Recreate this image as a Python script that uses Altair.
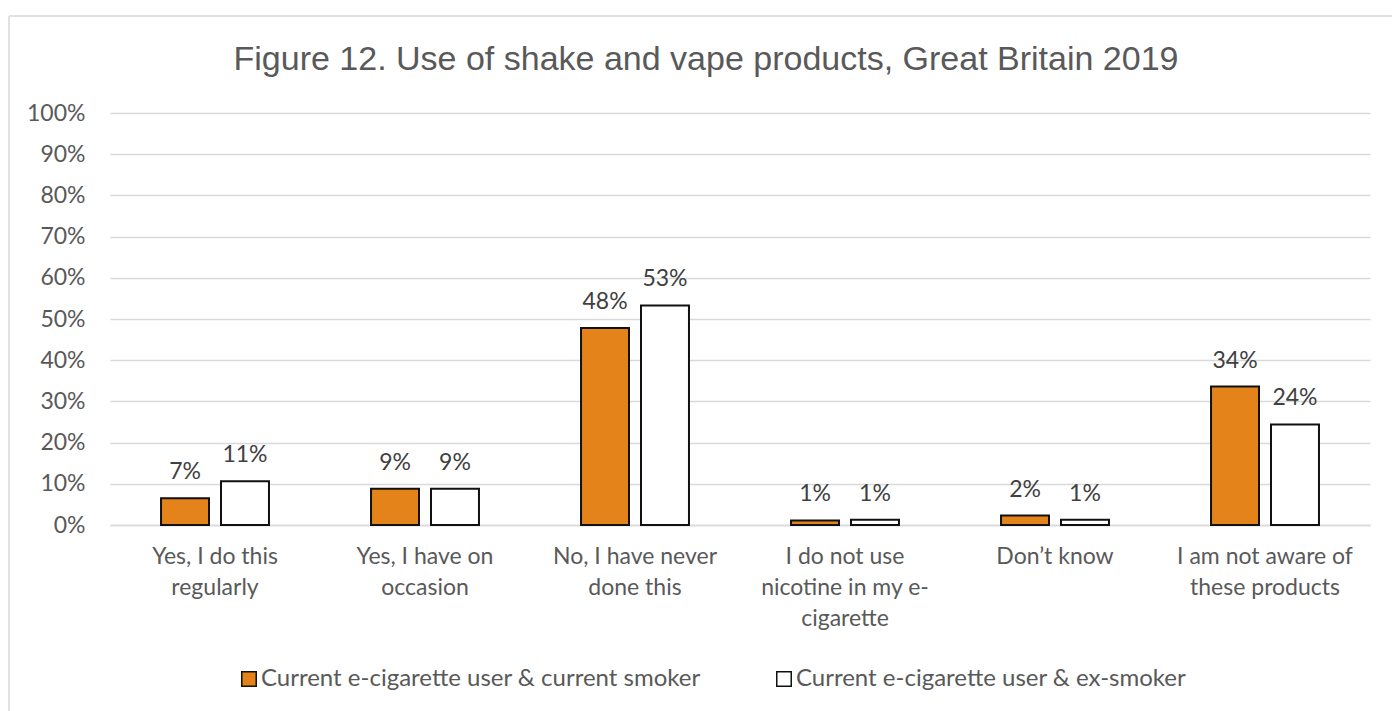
import json
import altair as alt
import pandas as pd

categories = [
    "Yes, I do this regularly",
    "Yes, I have on occasion",
    "No, I have never done this",
    "I do not use nicotine in my e-cigarette",
    "Don\u2019t know",
    "I am not aware of these products",
]
category_lines = [
    ["Yes, I do this", "regularly"],
    ["Yes, I have on", "occasion"],
    ["No, I have never", "done this"],
    ["I do not use", "nicotine in my e-", "cigarette"],
    ["Don\u2019t know"],
    ["I am not aware of", "these products"],
]
series = [
    "Current e-cigarette user & current smoker",
    "Current e-cigarette user & ex-smoker",
]
smoker_values = [6.5, 8.8, 47.8, 1.1, 2.3, 33.6]
exsmoker_values = [10.6, 8.8, 53.3, 1.3, 1.3, 24.4]
smoker_labels = ["7%", "9%", "48%", "1%", "2%", "34%"]
exsmoker_labels = ["11%", "9%", "53%", "1%", "1%", "24%"]
y_ticks = [0, 10, 20, 30, 40, 50, 60, 70, 80, 90, 100]

rows = []
for i, c in enumerate(categories):
    rows.append({"category": c, "series": series[0], "value": smoker_values[i], "label": smoker_labels[i]})
    rows.append({"category": c, "series": series[1], "value": exsmoker_values[i], "label": exsmoker_labels[i]})
df = pd.DataFrame(rows)

GRID = "#D9D9D9"
TEXT = "#595959"
ORANGE = "#E4831A"

label_expr = "{}[indexof({}, datum.value)]".format(
    json.dumps(category_lines, ensure_ascii=False),
    json.dumps(categories, ensure_ascii=False),
)

x_enc = alt.X(
    "category:N",
    sort=categories,
    scale=alt.Scale(paddingInner=0.486, paddingOuter=0.243),
    axis=alt.Axis(
        title=None,
        labelAngle=0,
        labelExpr=label_expr,
        labelFont="Lato",
        labelFontSize=23,
        labelColor=TEXT,
        labelLineHeight=31,
        labelBaseline="top",
        labelPadding=20,
        ticks=False,
        domainColor=GRID,
        domainWidth=1.5,
        labelLimit=400,
    ),
)
xoff_enc = alt.XOffset("series:N", sort=series, scale=alt.Scale(paddingInner=0.2, paddingOuter=0))
y_enc = alt.Y(
    "value:Q",
    scale=alt.Scale(domain=[0, 100], nice=False),
    axis=alt.Axis(
        title=None,
        values=y_ticks,
        labelExpr="datum.value + '%'",
        labelFont="Lato",
        labelFontSize=23,
        labelColor=TEXT,
        labelPadding=25,
        ticks=False,
        domain=False,
        gridColor=GRID,
        gridWidth=1.5,
    ),
)

bars = alt.Chart(df).mark_bar(stroke="#111111", strokeWidth=2).encode(
    x=x_enc,
    xOffset=xoff_enc,
    y=y_enc,
    color=alt.Color(
        "series:N",
        sort=series,
        scale=alt.Scale(domain=series, range=[ORANGE, "#FFFFFF"]),
        legend=alt.Legend(
            title=None,
            orient="none",
            legendX=127,
            legendY=554,
            direction="horizontal",
            symbolType="square",
            symbolSize=210,
            symbolStrokeColor="#111111",
            symbolStrokeWidth=1.5,
            labelFont="Lato",
            labelFontSize=24,
            labelColor=TEXT,
            labelOffset=0,
            columnPadding=71,
            labelLimit=600,
            padding=0,
        ),
    ),
)

labels = alt.Chart(df).mark_text(
    font="Lato", fontSize=23, color="#404040", baseline="alphabetic", dy=-19
).encode(
    x=alt.X("category:N", sort=categories),
    xOffset=alt.XOffset("series:N", sort=series),
    y=alt.Y("value:Q"),
    text="label:N",
)

frame_data = alt.Data(values=[{"k": 1}])
left_border = alt.Chart(frame_data).mark_rule(color=GRID, strokeWidth=1.5).encode(
    x=alt.value(-101), y=alt.value(-97), y2=alt.value(600)
)
top_border = alt.Chart(frame_data).mark_rule(color=GRID, strokeWidth=1.5).encode(
    x=alt.value(-101), x2=alt.value(1290), y=alt.value(-97)
)

chart = (
    alt.layer(left_border, top_border, bars, labels)
    .properties(
        width=1260,
        height=412,
        autosize=alt.AutoSizeParams(type="none"),
        padding={"left": 110, "top": 113, "right": 22, "bottom": 186},
        background="white",
        title=alt.TitleParams(
            text="Figure 12. Use of shake and vape products, Great Britain 2019",
            font="Liberation Sans",
            fontSize=34,
            fontWeight="normal",
            color=TEXT,
            anchor="middle",
            dx=-34,
            baseline="bottom",
            offset=-96,
        ),
    )
    .configure_view(stroke=None)
)

chart.save("out.html", embed_options={"renderer": "svg", "actions": False})
